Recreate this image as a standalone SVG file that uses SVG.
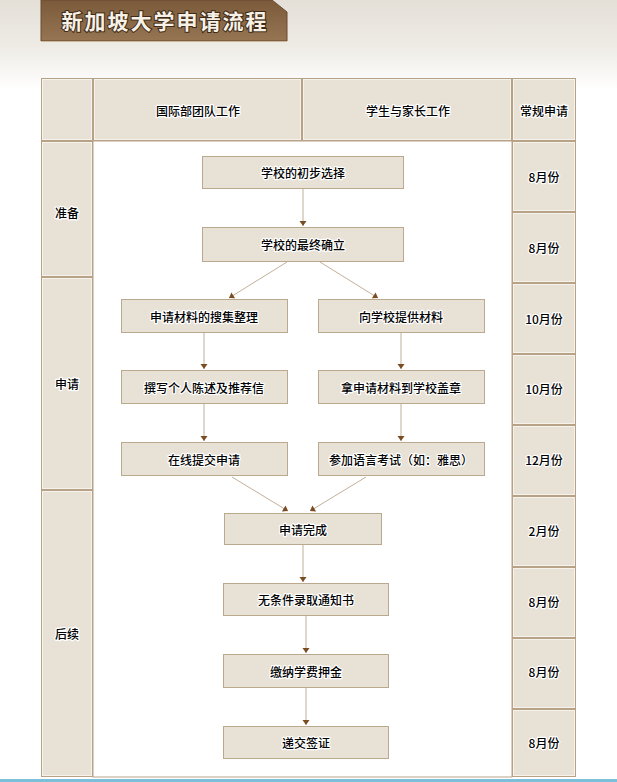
<svg xmlns="http://www.w3.org/2000/svg" width="617" height="782" viewBox="0 0 617 782">
<defs>
<linearGradient id="bg" x1="0" y1="0" x2="0" y2="1">
<stop offset="0" stop-color="#e4e0d8"/>
<stop offset="0.5" stop-color="#eeebe5"/>
<stop offset="1" stop-color="#ffffff"/>
</linearGradient>
<linearGradient id="ban" x1="0" y1="0" x2="0" y2="1">
<stop offset="0" stop-color="#7a5a3a"/>
<stop offset="1" stop-color="#957552"/>
</linearGradient>
<marker id="arr" viewBox="-4 -4 8 8" refX="3" refY="0" markerWidth="8" markerHeight="8" markerUnits="userSpaceOnUse" orient="auto">
<path d="M-2,-3.5 L3,0 L-2,3.5 Z" fill="#7a4c22"/>
</marker>
</defs>
<style>
.cell{fill:#e8e1d6;stroke:#b7a287;stroke-width:1}
.hl{fill:none;stroke:#f6f2ec;stroke-width:1}
.box{fill:#e8e1d5;stroke:#bba98f;stroke-width:1}
.sh{fill:none;stroke:#a8957c;stroke-width:1}
.t{font-family:"Noto Sans CJK SC","Noto Sans",sans-serif;font-size:12px;font-weight:500;fill:#000;text-anchor:middle;dominant-baseline:central;stroke:#ffffff;stroke-width:2.4px;paint-order:stroke;stroke-linejoin:round}
.conn{stroke:#c2b09a;stroke-width:1;fill:none;marker-end:url(#arr)}
</style>
<rect x="0" y="0" width="617" height="782" fill="#ffffff"/>
<rect x="0" y="0" width="617" height="90" fill="url(#bg)"/>
<g id="title">
<polygon points="41,0 272,0 287,12 287,41 41,41" fill="url(#ban)" stroke="#6a4b2e" stroke-width="1"/>
<line x1="41" y1="41.5" x2="287" y2="41.5" stroke="#c9b79d" stroke-width="1"/>
<text x="165" y="20" font-family="'Noto Sans CJK SC',sans-serif" font-size="21" font-weight="bold" fill="#f6f0e6" text-anchor="middle" dominant-baseline="central" letter-spacing="2" stroke="#3e2a16" stroke-width="2" paint-order="stroke">新加坡大学申请流程</text>
</g>
<g id="table">
<rect x="93" y="141" width="419" height="636" fill="#ffffff" stroke="#b7a287"/>
<g id="hdr-blank"><rect class="cell" x="41.5" y="78.5" width="51" height="62"/><rect class="hl" x="42.5" y="79.5" width="49" height="60"/></g>
<g id="hdr-intl"><rect class="cell" x="93.5" y="78.5" width="208" height="62"/><rect class="hl" x="94.5" y="79.5" width="206" height="60"/><text class="t" x="198" y="110">国际部团队工作</text></g>
<g id="hdr-parent"><rect class="cell" x="302.5" y="78.5" width="209" height="62"/><rect class="hl" x="303.5" y="79.5" width="207" height="60"/><text class="t" x="408" y="110">学生与家长工作</text></g>
<g id="hdr-regular"><rect class="cell" x="512.5" y="78.5" width="63" height="62"/><rect class="hl" x="513.5" y="79.5" width="61" height="60"/><text class="t" x="544" y="110">常规申请</text></g>
<g id="stage-prep"><rect class="cell" x="41.5" y="141.5" width="51" height="135"/><rect class="hl" x="42.5" y="142.5" width="49" height="133"/><text class="t" x="67" y="212">准备</text></g>
<g id="stage-apply"><rect class="cell" x="41.5" y="277.5" width="51" height="212"/><rect class="hl" x="42.5" y="278.5" width="49" height="210"/><text class="t" x="67" y="383">申请</text></g>
<g id="stage-after"><rect class="cell" x="41.5" y="490.5" width="51" height="286"/><rect class="hl" x="42.5" y="491.5" width="49" height="284"/><text class="t" x="67" y="633">后续</text></g>
<g id="m1"><rect class="cell" x="512.5" y="141.5" width="63" height="70"/><rect class="hl" x="513.5" y="142.5" width="61" height="68"/><text class="t" x="544" y="176">8月份</text></g>
<g id="m2"><rect class="cell" x="512.5" y="212.5" width="63" height="70"/><rect class="hl" x="513.5" y="213.5" width="61" height="68"/><text class="t" x="544" y="247">8月份</text></g>
<g id="m3"><rect class="cell" x="512.5" y="283.5" width="63" height="70"/><rect class="hl" x="513.5" y="284.5" width="61" height="68"/><text class="t" x="544" y="318">10月份</text></g>
<g id="m4"><rect class="cell" x="512.5" y="354.5" width="63" height="70"/><rect class="hl" x="513.5" y="355.5" width="61" height="68"/><text class="t" x="544" y="388">10月份</text></g>
<g id="m5"><rect class="cell" x="512.5" y="425.5" width="63" height="70"/><rect class="hl" x="513.5" y="426.5" width="61" height="68"/><text class="t" x="544" y="459">12月份</text></g>
<g id="m6"><rect class="cell" x="512.5" y="496.5" width="63" height="70"/><rect class="hl" x="513.5" y="497.5" width="61" height="68"/><text class="t" x="544" y="530">2月份</text></g>
<g id="m7"><rect class="cell" x="512.5" y="567.5" width="63" height="70"/><rect class="hl" x="513.5" y="568.5" width="61" height="68"/><text class="t" x="544" y="601">8月份</text></g>
<g id="m8"><rect class="cell" x="512.5" y="638.5" width="63" height="70"/><rect class="hl" x="513.5" y="639.5" width="61" height="68"/><text class="t" x="544" y="671">8月份</text></g>
<g id="m9"><rect class="cell" x="512.5" y="709.5" width="63" height="67"/><rect class="hl" x="513.5" y="710.5" width="61" height="65"/><text class="t" x="544" y="742">8月份</text></g>
</g>
<g id="connectors">
<line class="conn" x1="303" y1="189" x2="303" y2="226"/>
<line class="conn" x1="287" y1="262" x2="229" y2="298"/>
<line class="conn" x1="320" y1="262" x2="378" y2="298"/>
<line class="conn" x1="204" y1="333" x2="204" y2="369"/>
<line class="conn" x1="401" y1="333" x2="401" y2="369"/>
<line class="conn" x1="204" y1="404" x2="204" y2="441"/>
<line class="conn" x1="401" y1="404" x2="401" y2="441"/>
<line class="conn" x1="232" y1="477" x2="288" y2="511"/>
<line class="conn" x1="366" y1="477" x2="310" y2="511"/>
<line class="conn" x1="303" y1="545" x2="303" y2="582"/>
<line class="conn" x1="306" y1="616" x2="306" y2="653"/>
<line class="conn" x1="306" y1="688" x2="306" y2="725"/>
</g>
<g id="n1"><rect class="box" x="202.5" y="156.5" width="201" height="32"/><text class="t" x="303" y="172">学校的初步选择</text></g>
<g id="n2"><rect class="box" x="202.5" y="227.5" width="201" height="34"/><text class="t" x="303" y="244">学校的最终确立</text></g>
<g id="n3"><rect class="box" x="121.5" y="299.5" width="166" height="33"/><text class="t" x="204" y="316">申请材料的搜集整理</text></g>
<g id="n4"><rect class="box" x="318.5" y="299.5" width="166" height="33"/><text class="t" x="401" y="316">向学校提供材料</text></g>
<g id="n5"><rect class="box" x="121.5" y="370.5" width="166" height="33"/><text class="t" x="204" y="387">撰写个人陈述及推荐信</text></g>
<g id="n6"><rect class="box" x="318.5" y="370.5" width="166" height="33"/><text class="t" x="401" y="387">拿申请材料到学校盖章</text></g>
<g id="n7"><rect class="box" x="121.5" y="442.5" width="166" height="33"/><text class="t" x="204" y="459">在线提交申请</text></g>
<g id="n8"><rect class="box" x="318.5" y="442.5" width="166" height="33"/><text class="t" x="401" y="459">参加语言考试（如：雅思）</text></g>
<g id="n9"><rect class="box" x="224.5" y="513.5" width="157" height="31"/><text class="t" x="303" y="529">申请完成</text></g>
<g id="n10"><rect class="box" x="223.5" y="583.5" width="165" height="32"/><text class="t" x="306" y="599">无条件录取通知书</text></g>
<g id="n11"><rect class="box" x="223.5" y="654.5" width="165" height="33"/><text class="t" x="306" y="671">缴纳学费押金</text></g>
<g id="n12"><rect class="box" x="223.5" y="726.5" width="165" height="32"/><text class="t" x="306" y="742">递交签证</text></g>
<rect x="0" y="779" width="617" height="3" fill="#7cbfd9"/>
</svg>
